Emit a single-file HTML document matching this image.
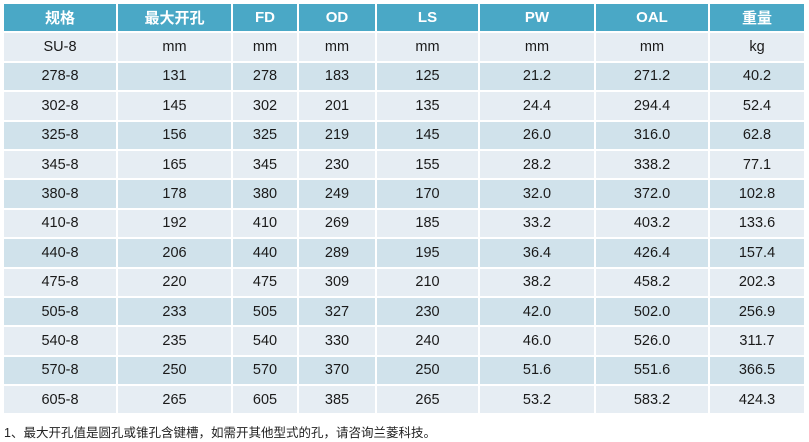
<!DOCTYPE html>
<html><head><meta charset="utf-8"><style>
body{margin:0;background:#fff;width:809px;height:442px;overflow:hidden;font-family:"Liberation Sans","Noto Sans CJK SC",sans-serif}
table{position:absolute;left:2px;top:2px;border-collapse:separate;border-spacing:2px;}
td{height:27.4px;padding:0;text-align:center;font-size:14.5px;color:#1a1a1a;}
tr.h td{background:#4aa8c6;color:#fff;font-weight:bold;font-size:15px;}
tr.l td{background:#e6edf3;}
tr.d td{background:#d0e2eb;}
.f{position:absolute;left:4px;top:422px;font-size:12.5px;color:#222;}
</style></head><body>
<table>
<colgroup><col style="width:112px"><col style="width:113px"><col style="width:64px"><col style="width:76px"><col style="width:101px"><col style="width:114px"><col style="width:112px"><col style="width:94px"></colgroup>
<tr class="h"><td>规格</td><td>最大开孔</td><td>FD</td><td>OD</td><td>LS</td><td>PW</td><td>OAL</td><td>重量</td></tr>
<tr class="l"><td>SU-8</td><td>mm</td><td>mm</td><td>mm</td><td>mm</td><td>mm</td><td>mm</td><td>kg</td></tr>
<tr class="d"><td>278-8</td><td>131</td><td>278</td><td>183</td><td>125</td><td>21.2</td><td>271.2</td><td>40.2</td></tr>
<tr class="l"><td>302-8</td><td>145</td><td>302</td><td>201</td><td>135</td><td>24.4</td><td>294.4</td><td>52.4</td></tr>
<tr class="d"><td>325-8</td><td>156</td><td>325</td><td>219</td><td>145</td><td>26.0</td><td>316.0</td><td>62.8</td></tr>
<tr class="l"><td>345-8</td><td>165</td><td>345</td><td>230</td><td>155</td><td>28.2</td><td>338.2</td><td>77.1</td></tr>
<tr class="d"><td>380-8</td><td>178</td><td>380</td><td>249</td><td>170</td><td>32.0</td><td>372.0</td><td>102.8</td></tr>
<tr class="l"><td>410-8</td><td>192</td><td>410</td><td>269</td><td>185</td><td>33.2</td><td>403.2</td><td>133.6</td></tr>
<tr class="d"><td>440-8</td><td>206</td><td>440</td><td>289</td><td>195</td><td>36.4</td><td>426.4</td><td>157.4</td></tr>
<tr class="l"><td>475-8</td><td>220</td><td>475</td><td>309</td><td>210</td><td>38.2</td><td>458.2</td><td>202.3</td></tr>
<tr class="d"><td>505-8</td><td>233</td><td>505</td><td>327</td><td>230</td><td>42.0</td><td>502.0</td><td>256.9</td></tr>
<tr class="l"><td>540-8</td><td>235</td><td>540</td><td>330</td><td>240</td><td>46.0</td><td>526.0</td><td>311.7</td></tr>
<tr class="d"><td>570-8</td><td>250</td><td>570</td><td>370</td><td>250</td><td>51.6</td><td>551.6</td><td>366.5</td></tr>
<tr class="l"><td>605-8</td><td>265</td><td>605</td><td>385</td><td>265</td><td>53.2</td><td>583.2</td><td>424.3</td></tr>
</table>
<div class="f">1、最大开孔值是圆孔或锥孔含键槽，如需开其他型式的孔，请咨询兰菱科技。</div>
</body></html>
